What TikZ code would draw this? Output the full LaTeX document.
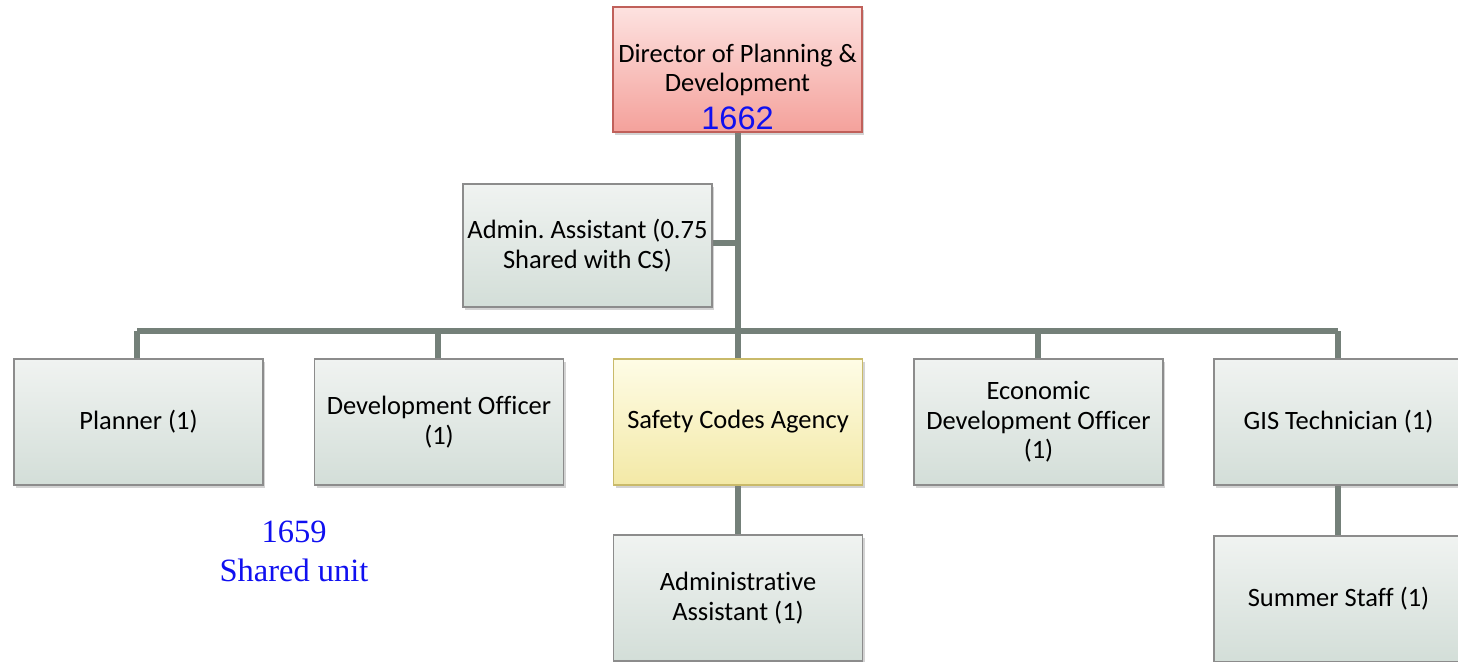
\documentclass[tikz,border=0pt]{standalone}
\usepackage{fontspec}
\setmainfont{Carlito}[Ligatures={NoCommon}]
\newfontfamily\numfont{Liberation Sans}
\newfontfamily\serifnote{Liberation Serif}
\usetikzlibrary{shadows}
\frenchspacing
\definecolor{linegray}{HTML}{748079}
\definecolor{boxtop}{HTML}{F0F3F1}
\definecolor{boxbot}{HTML}{D3DED8}
\definecolor{boxline}{HTML}{8C8C8C}
\definecolor{redtop}{HTML}{FDE2E0}
\definecolor{redbot}{HTML}{F4A19B}
\definecolor{redline}{HTML}{C0605A}
\definecolor{yeltop}{HTML}{FEFCE6}
\definecolor{yelbot}{HTML}{F3E9A6}
\definecolor{yelline}{HTML}{C9BA6A}
\definecolor{noteblue}{HTML}{1010F0}
\tikzset{
  orgbox/.style={draw=boxline, line width=1.2pt, top color=boxtop, bottom color=boxbot,
    minimum width=249pt, minimum height=126pt, inner sep=0pt, align=center,
    font=\fontsize{26.5}{29.5}\selectfont,
    drop shadow={shadow xshift=2pt, shadow yshift=-3pt, opacity=0.35}},
  redbox/.style={orgbox, draw=redline, top color=redtop, bottom color=redbot},
  yelbox/.style={orgbox, draw=yelline, top color=yeltop, bottom color=yelbot},
  plaintext/.style={inner sep=0pt, align=center, font=\fontsize{26.5}{29.5}\selectfont},
  conn/.style={draw=linegray, line width=5.5pt}
}
\begin{document}
\begin{tikzpicture}[x=1pt,y=-1pt]
\useasboundingbox (0,0) rectangle (1458,661);
\clip (0,0) rectangle (1458,661);
% connectors first
\coordinate (bar) at (738,331);
\coordinate (barL) at (137,331);
\coordinate (barR) at (1338,331);
\coordinate (adm) at (738,243);
\draw[conn] (738,132) -- (bar);
\draw[conn] (barL) -- (barR);
\draw[conn] (712,243) -- (adm);
\foreach \xx in {137,438,738,1038,1338} {\draw[conn] (\xx,331) -- (\xx,362);}
\draw[conn] (738,485) -- (738,538);
\draw[conn] (1338,485) -- (1338,538);
% boxes
\node[redbox, minimum height=125pt] (dir) at (737.5,69.5) {};
\node[plaintext] (dirt) at (737.5,70) {Director of Planning \&\\Development};
\node[inner sep=0pt, text=noteblue, font=\numfont\fontsize{32.5}{32.5}\selectfont] (dirnum) at (737.5,118) {1662};
\node[orgbox, minimum height=123pt] (aa) at (587.5,245.5) {Admin. Assistant (0.75\\Shared with CS)};
\node[orgbox] (pl) at (138.5,422) {Planner (1)};
\node[orgbox] (do) at (439,422) {Development Officer\\(1)};
\node[yelbox] (sca) at (738,422) {Safety Codes Agency};
\node[orgbox] (edo) at (1038.5,422) {Economic\\Development Officer\\(1)};
\node[orgbox] (gis) at (1338.5,422) {GIS Technician (1)};
\node[orgbox] (adm2) at (738,598) {Administrative\\Assistant (1)};
\node[orgbox] (ss) at (1338.5,599) {Summer Staff (1)};
\node[text=noteblue, align=center, font=\serifnote\fontsize{32.5}{39}\selectfont] (note) at (294,551) {1659\\Shared unit};
\end{tikzpicture}
\end{document}
